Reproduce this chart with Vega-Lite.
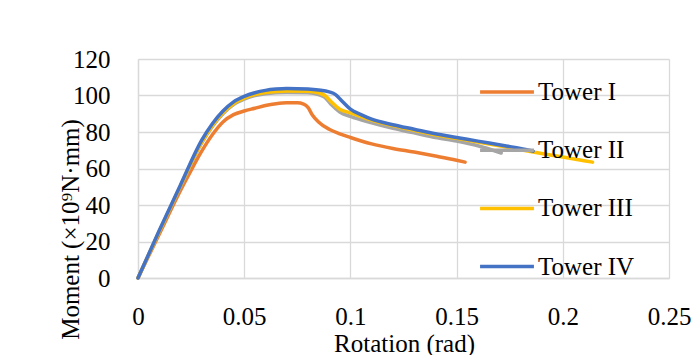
{
  "$schema": "https://vega.github.io/schema/vega-lite/v6.json",
  "width": 531,
  "height": 219,
  "autosize": "none",
  "padding": {"left": 138, "top": 59, "right": 30, "bottom": 77},
  "background": "white",
  "config": {
    "view": {"stroke": null},
    "font": "Liberation Serif"
  },
  "data": {
    "values": [
      {"series": "Tower I", "rot": 0, "moment": 0},
      {"series": "Tower I", "rot": 0.01, "moment": 24},
      {"series": "Tower I", "rot": 0.02, "moment": 48},
      {"series": "Tower I", "rot": 0.025, "moment": 59},
      {"series": "Tower I", "rot": 0.03, "moment": 69.5},
      {"series": "Tower I", "rot": 0.035, "moment": 78.5},
      {"series": "Tower I", "rot": 0.04, "moment": 85.5},
      {"series": "Tower I", "rot": 0.045, "moment": 89.5},
      {"series": "Tower I", "rot": 0.05, "moment": 91.5},
      {"series": "Tower I", "rot": 0.055, "moment": 93},
      {"series": "Tower I", "rot": 0.06, "moment": 94.5},
      {"series": "Tower I", "rot": 0.065, "moment": 95.5},
      {"series": "Tower I", "rot": 0.07, "moment": 96},
      {"series": "Tower I", "rot": 0.075, "moment": 96},
      {"series": "Tower I", "rot": 0.078, "moment": 95.3},
      {"series": "Tower I", "rot": 0.08, "moment": 93.5},
      {"series": "Tower I", "rot": 0.082, "moment": 89.5},
      {"series": "Tower I", "rot": 0.085, "moment": 85.5},
      {"series": "Tower I", "rot": 0.09, "moment": 81.5},
      {"series": "Tower I", "rot": 0.095, "moment": 79},
      {"series": "Tower I", "rot": 0.1, "moment": 77},
      {"series": "Tower I", "rot": 0.11, "moment": 73.5},
      {"series": "Tower I", "rot": 0.12, "moment": 71},
      {"series": "Tower I", "rot": 0.13, "moment": 69},
      {"series": "Tower I", "rot": 0.14, "moment": 66.8},
      {"series": "Tower I", "rot": 0.15, "moment": 64.5},
      {"series": "Tower I", "rot": 0.154, "moment": 63.5},

      {"series": "Tower II", "rot": 0, "moment": 0},
      {"series": "Tower II", "rot": 0.01, "moment": 25.5},
      {"series": "Tower II", "rot": 0.02, "moment": 50},
      {"series": "Tower II", "rot": 0.03, "moment": 74},
      {"series": "Tower II", "rot": 0.035, "moment": 83},
      {"series": "Tower II", "rot": 0.04, "moment": 90},
      {"series": "Tower II", "rot": 0.045, "moment": 95},
      {"series": "Tower II", "rot": 0.05, "moment": 98},
      {"series": "Tower II", "rot": 0.055, "moment": 100},
      {"series": "Tower II", "rot": 0.06, "moment": 101},
      {"series": "Tower II", "rot": 0.065, "moment": 101.5},
      {"series": "Tower II", "rot": 0.07, "moment": 101.7},
      {"series": "Tower II", "rot": 0.08, "moment": 101.5},
      {"series": "Tower II", "rot": 0.085, "moment": 100.5},
      {"series": "Tower II", "rot": 0.088, "moment": 99},
      {"series": "Tower II", "rot": 0.091, "moment": 95},
      {"series": "Tower II", "rot": 0.095, "moment": 91},
      {"series": "Tower II", "rot": 0.1, "moment": 88.5},
      {"series": "Tower II", "rot": 0.11, "moment": 85},
      {"series": "Tower II", "rot": 0.12, "moment": 82},
      {"series": "Tower II", "rot": 0.13, "moment": 79.5},
      {"series": "Tower II", "rot": 0.14, "moment": 77},
      {"series": "Tower II", "rot": 0.15, "moment": 75},
      {"series": "Tower II", "rot": 0.16, "moment": 72.5},
      {"series": "Tower II", "rot": 0.171, "moment": 68.5},

      {"series": "Tower III", "rot": 0, "moment": 0},
      {"series": "Tower III", "rot": 0.01, "moment": 25.5},
      {"series": "Tower III", "rot": 0.02, "moment": 50.5},
      {"series": "Tower III", "rot": 0.03, "moment": 74.5},
      {"series": "Tower III", "rot": 0.035, "moment": 83.5},
      {"series": "Tower III", "rot": 0.04, "moment": 90.5},
      {"series": "Tower III", "rot": 0.045, "moment": 95.5},
      {"series": "Tower III", "rot": 0.05, "moment": 98.5},
      {"series": "Tower III", "rot": 0.055, "moment": 100.5},
      {"series": "Tower III", "rot": 0.06, "moment": 101.6},
      {"series": "Tower III", "rot": 0.065, "moment": 102.2},
      {"series": "Tower III", "rot": 0.07, "moment": 102.5},
      {"series": "Tower III", "rot": 0.08, "moment": 102.3},
      {"series": "Tower III", "rot": 0.085, "moment": 101.5},
      {"series": "Tower III", "rot": 0.088, "moment": 100},
      {"series": "Tower III", "rot": 0.091, "moment": 96.5},
      {"series": "Tower III", "rot": 0.095, "moment": 92.5},
      {"series": "Tower III", "rot": 0.1, "moment": 90.5},
      {"series": "Tower III", "rot": 0.11, "moment": 86.5},
      {"series": "Tower III", "rot": 0.12, "moment": 83.5},
      {"series": "Tower III", "rot": 0.13, "moment": 81},
      {"series": "Tower III", "rot": 0.14, "moment": 78.5},
      {"series": "Tower III", "rot": 0.15, "moment": 76.5},
      {"series": "Tower III", "rot": 0.16, "moment": 74.5},
      {"series": "Tower III", "rot": 0.17, "moment": 72.5},
      {"series": "Tower III", "rot": 0.18, "moment": 70.3},
      {"series": "Tower III", "rot": 0.19, "moment": 68.2},
      {"series": "Tower III", "rot": 0.2, "moment": 66.3},
      {"series": "Tower III", "rot": 0.21, "moment": 64.3},
      {"series": "Tower III", "rot": 0.214, "moment": 63.5},

      {"series": "Tower IV", "rot": 0, "moment": 0},
      {"series": "Tower IV", "rot": 0.01, "moment": 26},
      {"series": "Tower IV", "rot": 0.02, "moment": 51},
      {"series": "Tower IV", "rot": 0.03, "moment": 75.5},
      {"series": "Tower IV", "rot": 0.035, "moment": 84.5},
      {"series": "Tower IV", "rot": 0.04, "moment": 91.5},
      {"series": "Tower IV", "rot": 0.045, "moment": 96.5},
      {"series": "Tower IV", "rot": 0.05, "moment": 99.5},
      {"series": "Tower IV", "rot": 0.055, "moment": 101.5},
      {"series": "Tower IV", "rot": 0.06, "moment": 102.8},
      {"series": "Tower IV", "rot": 0.065, "moment": 103.5},
      {"series": "Tower IV", "rot": 0.07, "moment": 103.8},
      {"series": "Tower IV", "rot": 0.08, "moment": 103.5},
      {"series": "Tower IV", "rot": 0.085, "moment": 103},
      {"series": "Tower IV", "rot": 0.09, "moment": 102},
      {"series": "Tower IV", "rot": 0.093, "moment": 100.5},
      {"series": "Tower IV", "rot": 0.096, "moment": 97},
      {"series": "Tower IV", "rot": 0.1, "moment": 92.5},
      {"series": "Tower IV", "rot": 0.105, "moment": 89.5},
      {"series": "Tower IV", "rot": 0.11, "moment": 87},
      {"series": "Tower IV", "rot": 0.12, "moment": 84},
      {"series": "Tower IV", "rot": 0.13, "moment": 81.5},
      {"series": "Tower IV", "rot": 0.14, "moment": 79},
      {"series": "Tower IV", "rot": 0.15, "moment": 77},
      {"series": "Tower IV", "rot": 0.16, "moment": 75},
      {"series": "Tower IV", "rot": 0.17, "moment": 73},
      {"series": "Tower IV", "rot": 0.18, "moment": 71},
      {"series": "Tower IV", "rot": 0.186, "moment": 69.5}
    ]
  },
  "mark": {"type": "line", "strokeWidth": 3.5, "strokeCap": "round", "strokeJoin": "round", "interpolate": "monotone"},
  "encoding": {
    "x": {
      "field": "rot",
      "type": "quantitative",
      "scale": {"domain": [0, 0.25], "nice": false, "zero": false},
      "axis": {
        "title": "Rotation (rad)",
        "values": [0, 0.05, 0.1, 0.15, 0.2, 0.25],
        "format": ".2~f",
        "labelFont": "Liberation Serif",
        "labelFontSize": 25,
        "labelColor": "#000000",
        "labelPadding": 26,
        "labelFlush": false,
        "labelOverlap": false,
        "ticks": false,
        "domainColor": "#D9D9D9",
        "domainWidth": 1.3,
        "gridColor": "#D9D9D9",
        "gridWidth": 1.3,
        "titleFont": "Liberation Serif",
        "titleFontSize": 25,
        "titleFontWeight": "normal",
        "titleColor": "#000000",
        "titleBaseline": "alphabetic",
        "titleAlign": "center",
        "titleX": 266,
        "titleY": 73
      }
    },
    "y": {
      "field": "moment",
      "type": "quantitative",
      "scale": {"domain": [0, 120], "nice": false},
      "axis": {
        "title": "Moment (×10⁹N·mm)",
        "values": [0, 20, 40, 60, 80, 100, 120],
        "labelFont": "Liberation Serif",
        "labelFontSize": 25,
        "labelColor": "#000000",
        "labelPadding": 28,
        "labelFlush": false,
        "labelOverlap": false,
        "ticks": false,
        "domainColor": "#D9D9D9",
        "domainWidth": 1.3,
        "gridColor": "#D9D9D9",
        "gridWidth": 1.3,
        "titleFont": "Liberation Serif",
        "titleFontSize": 25,
        "titleFontWeight": "normal",
        "titleColor": "#000000",
        "titleAngle": -90,
        "titleBaseline": "alphabetic",
        "titleAlign": "center",
        "titleX": -60,
        "titleY": 170
      }
    },
    "color": {
      "field": "series",
      "type": "nominal",
      "scale": {
        "domain": ["Tower I", "Tower II", "Tower III", "Tower IV"],
        "range": ["#ED7D31", "#A5A5A5", "#FFC000", "#4472C4"]
      },
      "legend": {
        "title": null,
        "orient": "none",
        "legendX": 340,
        "legendY": 4,
        "padding": 0,
        "symbolType": "stroke",
        "symbolSize": 2900,
        "symbolStrokeWidth": 3.5,
        "rowPadding": 16.2,
        "labelOffset": 2,
        "labelFont": "Liberation Serif",
        "labelFontSize": 25,
        "labelColor": "#000000",
        "labelLimit": 300
      }
    }
  }
}
